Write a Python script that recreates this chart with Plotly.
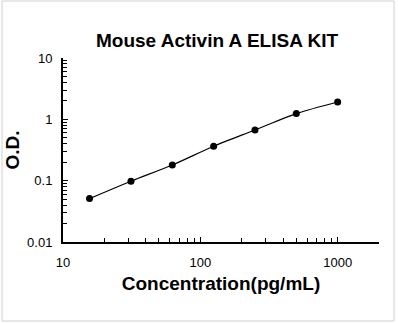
import plotly.graph_objects as go

conc = [15.6, 31.25, 62.5, 125, 250, 500, 1000]
od = [0.051, 0.098, 0.18, 0.365, 0.67, 1.24, 1.92]
title = "Mouse Activin A ELISA KIT"
xtitle = "Concentration(pg/mL)"
ytitle = "O.D."

fig = go.Figure()
fig.add_trace(go.Scatter(
    x=conc, y=od, mode="lines+markers",
    line=dict(color="black", width=1.2, shape="spline", smoothing=0.8),
    marker=dict(color="black", size=7),
    showlegend=False,
))

W, H = 398, 323
L, R, T, B = 63, 19, 58, 81
pw, ph = W - L - R, H - T - B

fig.update_layout(
    width=W, height=H,
    margin=dict(l=L, r=R, t=T, b=B, autoexpand=False),
    paper_bgcolor="white", plot_bgcolor="white",
    font=dict(family="Liberation Sans, Arial", color="black", size=13),
    title=dict(text="<b>" + title + "</b>", x=217 / W, xanchor="center",
               y=1 - 40 / H, yanchor="middle", font=dict(size=19)),
)
fig.update_xaxes(
    type="log", range=[1, 3.301], showgrid=False, zeroline=False, automargin=False,
    showline=True, linecolor="black", linewidth=2,
    ticks="inside", ticklen=5, tickcolor="black", tickwidth=1,
    tickvals=[10, 100, 1000], ticktext=["10", "100", "1000"],
    ticklabelstandoff=7,
    minor=dict(ticks="inside", ticklen=4, tickcolor="black", tickwidth=1,
               tickvals=[20, 30, 40, 50, 60, 70, 80, 90, 200, 300, 400, 500, 600, 700, 800, 900, 2000]),
    title=dict(text="<b>" + xtitle + "</b>", font=dict(size=19), standoff=8),
)
fig.update_yaxes(
    type="log", range=[-2, 1], showgrid=False, zeroline=False, automargin=False,
    showline=True, linecolor="black", linewidth=2,
    ticks="inside", ticklen=5, tickcolor="black", tickwidth=1,
    tickvals=[0.01, 0.1, 1, 10], ticktext=["0.01", "0.1", "1", "10"],
    ticklabelstandoff=6,
    minor=dict(ticks="inside", ticklen=4, tickcolor="black", tickwidth=1,
               tickvals=[0.02, 0.03, 0.04, 0.05, 0.06, 0.07, 0.08, 0.09,
                         0.2, 0.3, 0.4, 0.5, 0.6, 0.7, 0.8, 0.9,
                         2, 3, 4, 5, 6, 7, 8, 9]),
    title=dict(text="<b>" + ytitle + "</b>", font=dict(size=19), standoff=2),
)
fig.add_shape(type="rect", xref="paper", yref="paper",
              x0=(2 - L) / pw, x1=(394 - L) / pw,
              y0=(H - 321 - B) / ph, y1=(H - 1 - B) / ph,
              line=dict(color="#d0d0d0", width=1), layer="below")

fig.write_html("out.html")
